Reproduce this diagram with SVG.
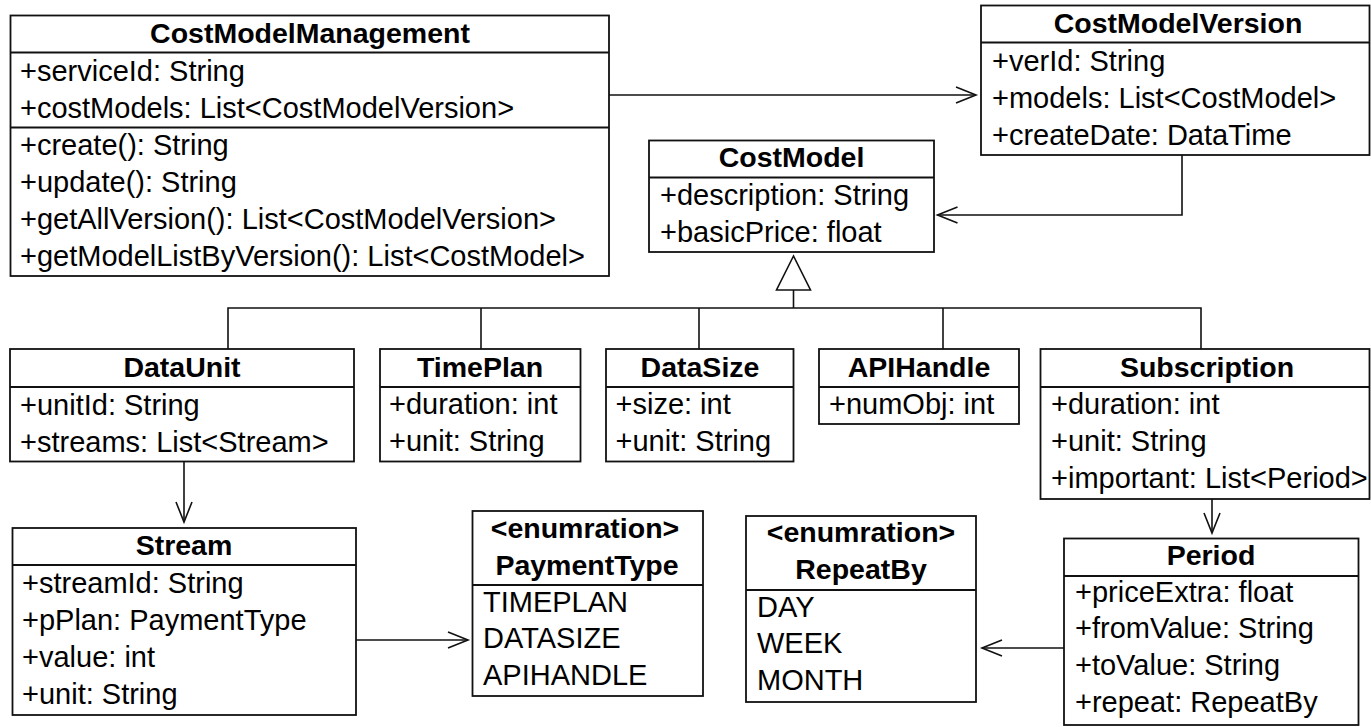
<svg xmlns="http://www.w3.org/2000/svg" width="1371" height="727" viewBox="0 0 1371 727">
<style>
  .box { fill: #fff; stroke: #111; stroke-width: 1.8; }
  .div { stroke: #111; stroke-width: 1.8; fill: none; }
  .con { stroke: #111; stroke-width: 1.6; fill: none; }
  text { font-family: "Liberation Sans", Arial, sans-serif; font-size: 29px; fill: #000; }
  .t { font-weight: bold; font-size: 28.5px; text-anchor: middle; }
</style>
<defs>
  <marker id="open" markerUnits="userSpaceOnUse" markerWidth="24" markerHeight="20" refX="21" refY="9" orient="auto">
    <path d="M1,1 L21,9 L1,17" fill="none" stroke="#111" stroke-width="1.6"/>
  </marker>
</defs>
<rect width="1371" height="727" fill="#fff"/>

<g id="connectors">
  <line class="con" x1="609" y1="95" x2="976" y2="95" marker-end="url(#open)"/>
  <path class="con" d="M1182,155 V215 H937.5" marker-end="url(#open)"/>
  <polyline class="con" points="228,349 228,308 1201,308 1201,349"/>
  <line class="con" x1="481" y1="308" x2="481" y2="349"/>
  <line class="con" x1="699" y1="308" x2="699" y2="349"/>
  <line class="con" x1="943" y1="308" x2="943" y2="349"/>
  <line class="con" x1="793.5" y1="308" x2="793.5" y2="290"/>
  <polygon class="con" points="793.5,256 776.5,290 810.5,290" fill="#fff"/>
  <line class="con" x1="184" y1="461.5" x2="184" y2="522" marker-end="url(#open)"/>
  <line class="con" x1="356" y1="640" x2="468" y2="640" marker-end="url(#open)"/>
  <line class="con" x1="1212" y1="499" x2="1212" y2="533" marker-end="url(#open)"/>
  <line class="con" x1="1064" y1="648" x2="982" y2="648" marker-end="url(#open)"/>
</g>

<g id="CostModelManagement">
  <rect class="box" x="10.5" y="15.5" width="598.5" height="260.5"/>
  <line class="div" x1="10.5" y1="52.5" x2="609" y2="52.5"/>
  <line class="div" x1="10.5" y1="127.5" x2="609" y2="127.5"/>
  <text class="t" x="310" y="43">CostModelManagement</text>
  <text x="20" y="81">+serviceId: String</text>
  <text x="20" y="118">+costModels: List&lt;CostModelVersion&gt;</text>
  <text x="20" y="155">+create(): String</text>
  <text x="20" y="192">+update(): String</text>
  <text x="20" y="229">+getAllVersion(): List&lt;CostModelVersion&gt;</text>
  <text x="20" y="266">+getModelListByVersion(): List&lt;CostModel&gt;</text>
</g>

<g id="CostModelVersion">
  <rect class="box" x="981" y="5.5" width="388.5" height="149.5"/>
  <line class="div" x1="981" y1="42.5" x2="1369.5" y2="42.5"/>
  <text class="t" x="1178" y="33">CostModelVersion</text>
  <text x="992" y="71">+verId: String</text>
  <text x="992" y="108">+models: List&lt;CostModel&gt;</text>
  <text x="992" y="145">+createDate: DataTime</text>
</g>

<g id="CostModel">
  <rect class="box" x="649" y="140.5" width="285" height="111.5"/>
  <line class="div" x1="649" y1="177.5" x2="934" y2="177.5"/>
  <text class="t" x="791.5" y="167">CostModel</text>
  <text x="660" y="205">+description: String</text>
  <text x="660" y="242">+basicPrice: float</text>
</g>

<g id="DataUnit">
  <rect class="box" x="10" y="349" width="344" height="112.5"/>
  <line class="div" x1="10" y1="387" x2="354" y2="387"/>
  <text class="t" x="182" y="377">DataUnit</text>
  <text x="20" y="415">+unitId: String</text>
  <text x="20" y="452">+streams: List&lt;Stream&gt;</text>
</g>

<g id="TimePlan">
  <rect class="box" x="380" y="349" width="200.5" height="112.5"/>
  <line class="div" x1="380" y1="387" x2="580.5" y2="387"/>
  <text class="t" x="480" y="377">TimePlan</text>
  <text x="389" y="414">+duration: int</text>
  <text x="389" y="451">+unit: String</text>
</g>

<g id="DataSize">
  <rect class="box" x="606" y="349" width="187.5" height="112.5"/>
  <line class="div" x1="606" y1="387" x2="793.5" y2="387"/>
  <text class="t" x="700" y="377">DataSize</text>
  <text x="615.5" y="414">+size: int</text>
  <text x="615.5" y="451">+unit: String</text>
</g>

<g id="APIHandle">
  <rect class="box" x="819" y="349" width="200" height="75"/>
  <line class="div" x1="819" y1="387" x2="1019" y2="387"/>
  <text class="t" x="919" y="377">APIHandle</text>
  <text x="829" y="414">+numObj: int</text>
</g>

<g id="Subscription">
  <rect class="box" x="1040.5" y="349" width="329" height="150"/>
  <line class="div" x1="1040.5" y1="387" x2="1369.5" y2="387"/>
  <text class="t" x="1207" y="377">Subscription</text>
  <text x="1051" y="414">+duration: int</text>
  <text x="1051" y="451">+unit: String</text>
  <text x="1051" y="488">+important: List&lt;Period&gt;</text>
</g>

<g id="Stream">
  <rect class="box" x="12.5" y="528" width="343.5" height="187"/>
  <line class="div" x1="12.5" y1="565" x2="356" y2="565"/>
  <text class="t" x="184" y="555">Stream</text>
  <text x="22" y="593">+streamId: String</text>
  <text x="22" y="630">+pPlan: PaymentType</text>
  <text x="22" y="667">+value: int</text>
  <text x="22" y="704">+unit: String</text>
</g>

<g id="PaymentType">
  <rect class="box" x="472.5" y="511" width="230.5" height="185"/>
  <line class="div" x1="472.5" y1="585" x2="703" y2="585"/>
  <text class="t" x="585" y="538">&lt;enumration&gt;</text>
  <text class="t" x="587" y="575">PaymentType</text>
  <text x="483" y="612">TIMEPLAN</text>
  <text x="483" y="648">DATASIZE</text>
  <text x="483" y="685">APIHANDLE</text>
</g>

<g id="RepeatBy">
  <rect class="box" x="746" y="516" width="230" height="186"/>
  <line class="div" x1="746" y1="590" x2="976" y2="590"/>
  <text class="t" x="861" y="542">&lt;enumration&gt;</text>
  <text class="t" x="861" y="579">RepeatBy</text>
  <text x="757" y="617">DAY</text>
  <text x="757" y="653">WEEK</text>
  <text x="757" y="690">MONTH</text>
</g>

<g id="Period">
  <rect class="box" x="1064" y="538.5" width="294.5" height="186.5"/>
  <line class="div" x1="1064" y1="576" x2="1358.5" y2="576"/>
  <text class="t" x="1211" y="565">Period</text>
  <text x="1075" y="602">+priceExtra: float</text>
  <text x="1075" y="638">+fromValue: String</text>
  <text x="1075" y="675">+toValue: String</text>
  <text x="1075" y="712">+repeat: RepeatBy</text>
</g>
</svg>
